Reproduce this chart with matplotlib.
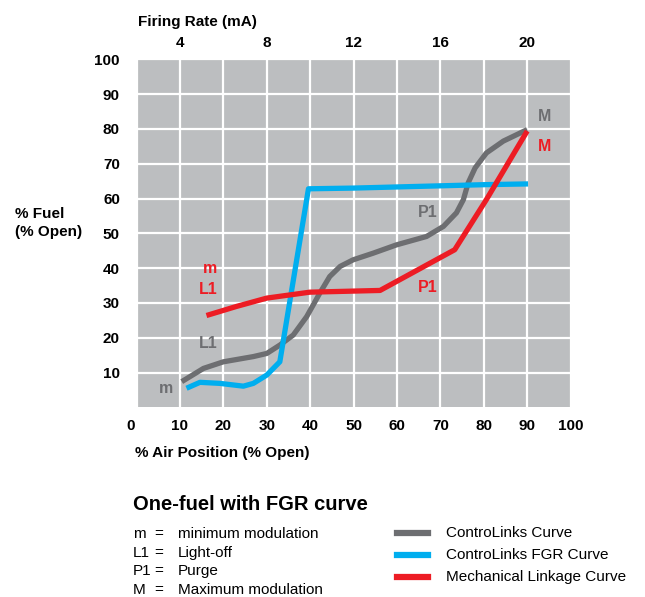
"""
One-fuel with FGR curve: fuel vs air position, with firing rate on top.
"""
import matplotlib
matplotlib.use("Agg")
import matplotlib.pyplot as plt
import matplotlib.transforms as mtransforms
from matplotlib.lines import Line2D

plt.rcParams["font.family"] = ["Liberation Sans", "DejaVu Sans"]

# ControLinks curve (gray)
controlinks_x = [10.4, 15.4, 20.0, 26.9, 30.0, 33.0, 36.1, 39.2, 42.2, 44.5, 46.9,
                 49.9, 54.5, 59.9, 66.8, 70.7, 73.7, 75.3, 76.4, 78.0, 80.6, 84.5, 90.0]
controlinks_y = [7.4, 11.2, 13.1, 14.6, 15.5, 17.9, 20.8, 26.1, 32.8, 37.6, 40.5,
                 42.4, 44.3, 46.7, 49.1, 52.0, 55.9, 59.7, 64.5, 68.8, 73.1, 76.5, 79.8]

# ControLinks FGR curve (blue)
fgr_x = [11.5, 14.6, 19.2, 24.6, 26.9, 30.0, 33.0, 39.6, 49.9, 65.3, 80.6, 90.2]
fgr_y = [5.5, 7.2, 6.9, 6.1, 6.9, 9.3, 13.1, 62.8, 63.0, 63.5, 64.0, 64.2]

# Mechanical linkage curve (red)
mech_x = [16.1, 23.0, 30.0, 39.9, 56.1, 73.3, 80.6, 90.0]
mech_y = [26.4, 29.0, 31.4, 33.1, 33.6, 45.3, 59.7, 79.4]

x_ticks = [0, 10, 20, 30, 40, 50, 60, 70, 80, 90, 100]
y_ticks = [10, 20, 30, 40, 50, 60, 70, 80, 90, 100]
firing_rate_ticks = [4, 8, 12, 16, 20]

# point labels: (text, x, y, colour key)
point_labels = [
    ("m", 6.8, 5.5, "gray"),
    ("L1", 16.5, 18.4, "gray"),
    ("P1", 67.0, 56.0, "gray"),
    ("M", 94.0, 83.7, "gray"),
    ("m", 16.9, 40.0, "red"),
    ("L1", 16.5, 33.8, "red"),
    ("P1", 67.0, 34.5, "red"),
    ("M", 94.0, 75.0, "red"),
]

abbrevs = ["m", "L1", "P1", "M"]
abbrev_meanings = ["minimum modulation", "Light-off", "Purge", "Maximum modulation"]
legend_names = ["ControLinks Curve", "ControLinks FGR Curve", "Mechanical Linkage Curve"]

colors = {"gray": "#6d6e71", "blue": "#00aeef", "red": "#ed1c24"}
bg = "#bcbec0"
fs = 11

fig = plt.figure(figsize=(6.45, 5.97), dpi=100)
W, H = 645, 597
ax = fig.add_axes([136.6 / W, 1 - 407.4 / H, 434.0 / W, 348.1 / H])
ax.set_facecolor(bg)
ax.set_xlim(0, 100)
ax.set_ylim(0, 100)
ax.set_xticks(x_ticks)
ax.set_yticks(y_ticks)
ax.grid(True, color="white", linewidth=1.6)
ax.set_axisbelow(True)
for s in ax.spines.values():
    s.set_visible(False)
ax.tick_params(length=0, labelsize=fs)
ax.tick_params(axis="y", pad=12)
ax.tick_params(axis="x", pad=8)
for lab in ax.get_xticklabels() + ax.get_yticklabels():
    lab.set_fontweight("bold")
# the "0" label sits a little left of its gridline
zero = ax.get_xticklabels()[0]
zero.set_transform(zero.get_transform()
                   + mtransforms.ScaledTranslation(-6 / 100, 0, fig.dpi_scale_trans))

lw = 3.8
ax.plot(controlinks_x, controlinks_y, color=colors["gray"], lw=lw,
        solid_capstyle="butt", solid_joinstyle="round", zorder=3)
ax.plot(fgr_x, fgr_y, color=colors["blue"], lw=lw,
        solid_capstyle="butt", solid_joinstyle="round", zorder=4)
ax.plot(mech_x, mech_y, color=colors["red"], lw=lw,
        solid_capstyle="butt", solid_joinstyle="round", zorder=5)

for txt, px, py, c in point_labels:
    ax.text(px, py, txt, color=colors[c], fontsize=11.5, fontweight="bold",
            ha="center", va="center", zorder=6)

# top axis: firing rate (mA), 4 mA at 10 %, 20 mA at 90 %
top = ax.secondary_xaxis("top", functions=(lambda x: (x + 10) / 5, lambda m: 5 * m - 10))
top.set_xticks(firing_rate_ticks)
top.tick_params(length=0, labelsize=fs, pad=7)
for lab in top.get_xticklabels():
    lab.set_fontweight("bold")
top.spines["top"].set_visible(False)

fig.text(138 / W, 1 - 26 / H, "Firing Rate (mA)", fontsize=fs, fontweight="bold",
         va="baseline")
fig.text(15 / W, 1 - 218 / H, "% Fuel", fontsize=fs, fontweight="bold", va="baseline")
fig.text(15 / W, 1 - 236 / H, "(% Open)", fontsize=fs, fontweight="bold", va="baseline")
fig.text(135 / W, 1 - 457 / H, "% Air Position (% Open)", fontsize=fs,
         fontweight="bold", va="baseline")

fig.text(133 / W, 1 - 510 / H, "One-fuel with FGR curve", fontsize=14.5,
         fontweight="bold", va="baseline")

for i, (a, meaning) in enumerate(zip(abbrevs, abbrev_meanings)):
    yb = 1 - (538 + i * 18.7) / H
    fig.text(133 / W, yb, a, fontsize=fs, va="baseline")
    fig.text(158.5 / W, yb, "=", fontsize=fs, va="baseline", ha="center")
    fig.text(178 / W, yb, meaning, fontsize=fs, va="baseline")

for i, (name, c) in enumerate(zip(legend_names, ["gray", "blue", "red"])):
    yc = 1 - (533 + i * 22) / H
    fig.add_artist(Line2D([397 / W, 428 / W], [yc, yc], color=colors[c], lw=4.5))
    fig.text(446 / W, yc, name, fontsize=fs, va="center")

fig.savefig("out.png", dpi=100)
plt.close(fig)
